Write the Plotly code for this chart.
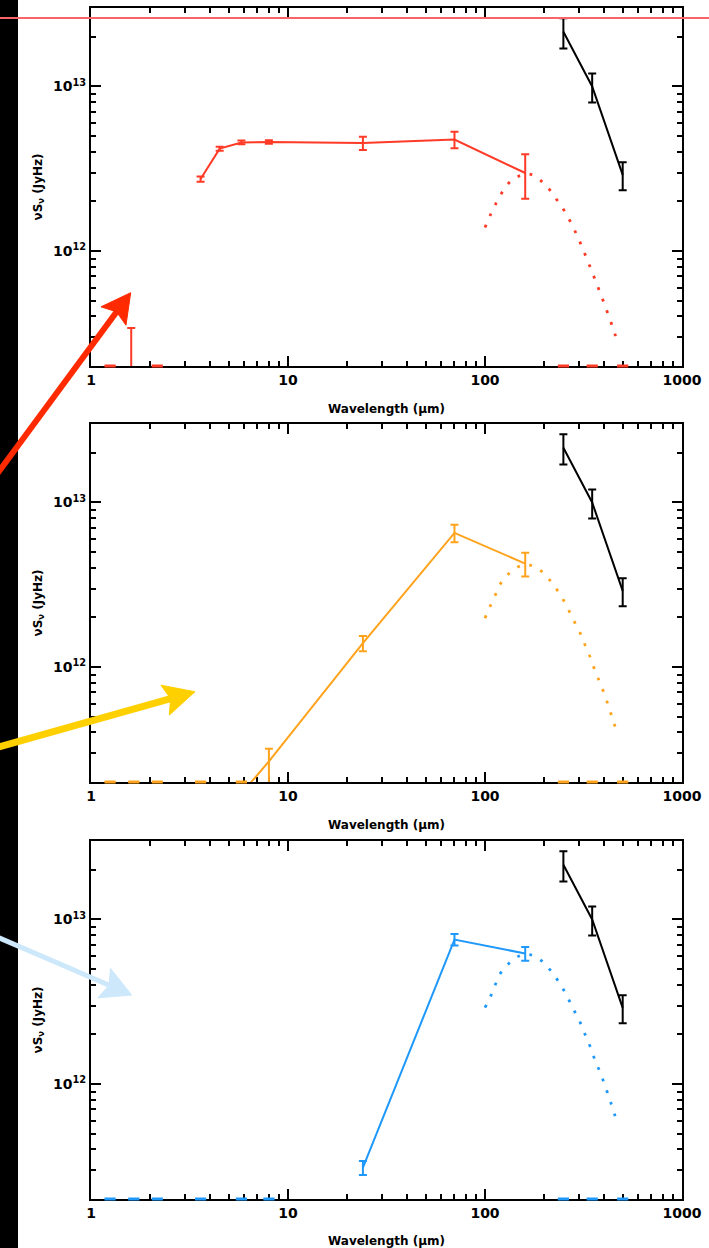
import math
import plotly.graph_objects as go

# ---------------------------------------------------------------- data
# Far-IR points shared by all three panels (micron, Jy Hz)
fir_wl = [250, 350, 500]
fir_flux = [2.15e13, 1.0e13, 2.9e12]
fir_err = [0.45e13, 0.20e13, 0.56e12]

# Panel 1 (red)
red_wl = [3.6, 4.5, 5.8, 8.0, 24, 70, 160]
red_flux = [2.74e12, 4.19e12, 4.57e12, 4.60e12, 4.53e12, 4.76e12, 2.98e12]
red_err = [0.10e12, 0.12e12, 0.12e12, 0.12e12, 0.42e12, 0.55e12, 0.90e12]
red_lim_wl = [1.6]
red_lim_flux = [1.0e11]
red_lim_err = [2.4e11]
red_floor_wl = [1.25, 2.17, 250, 350, 500]
red_bb_wl = [100, 113, 132, 148, 171, 194, 214, 234, 254, 290, 326, 363, 404, 447, 468]
red_bb_flux = [1.39e12, 1.92e12, 2.59e12, 2.85e12, 2.92e12, 2.65e12, 2.34e12, 2.01e12,
               1.74e12, 1.28e12, 9.2e11, 6.64e11, 4.75e11, 3.38e11, 2.85e11]

# Panel 2 (orange)
org_wl = [5.8, 8.0, 24, 70, 160]
org_flux = [1.7e11, 2.67e11, 1.395e12, 6.53e12, 4.25e12]
org_err_hi = [0.0, 0.52e11, 0.15e12, 0.80e12, 0.70e12]
org_err_lo = [0.0, 0.90e11, 0.15e12, 0.80e12, 0.70e12]
org_floor_wl = [1.25, 1.65, 2.17, 3.6, 5.8, 250, 350, 500]
org_bb_wl = [100, 106, 113, 120, 132, 149, 171, 194, 216, 235, 254, 272, 290, 310,
             326, 346, 363, 384, 405, 426, 445, 467]
org_bb_flux = [1.98e12, 2.33e12, 2.75e12, 3.22e12, 3.69e12, 4.09e12, 4.15e12, 3.81e12,
               3.31e12, 2.88e12, 2.47e12, 2.10e12, 1.80e12, 1.53e12, 1.31e12, 1.11e12,
               9.36e11, 8.0e11, 6.75e11, 5.67e11, 4.8e11, 4.03e11]

# Panel 3 (blue)
blu_wl = [24, 70, 160]
blu_flux = [3.1e11, 7.55e12, 6.21e12]
blu_err = [0.3e11, 0.6e12, 0.6e12]
blu_floor_wl = [1.25, 1.65, 2.17, 3.6, 5.8, 8.0, 250, 350, 500]
blu_bb_wl = [100, 107, 113, 120, 133, 149, 171, 194, 216, 235, 254, 272, 290, 310,
             326, 346, 363, 384, 405, 426, 445, 467]
blu_bb_flux = [2.91e12, 3.43e12, 4.04e12, 4.73e12, 5.44e12, 6.0e12, 6.1e12, 5.6e12,
               4.87e12, 4.23e12, 3.63e12, 3.09e12, 2.65e12, 2.25e12, 1.93e12, 1.63e12,
               1.38e12, 1.18e12, 0.99e12, 0.83e12, 0.71e12, 0.59e12]

x_ticks = [1, 10, 100, 1000]
x_ticktext = ["1", "10", "100", "1000"]
y_ticks = [1e12, 1e13]
y_ticktext = ["10<sup>12</sup>", "10<sup>13</sup>"]
Y_MIN, Y_MAX = 2e11, 3e13

RED = "#ff3a26"
ORANGE = "#ffa31c"
BLUE = "#1e98fa"

# ---------------------------------------------------------------- geometry
W, H = 709, 1248
L, R, T, B = 91, 27, 8, 49
PW, PH = W - L - R, H - T - B
panel_rows = [(8, 366), (424, 782), (841, 1199)]


def to_paper(px, py):
    return (px - L) / PW, (H - B - py) / PH


fig = go.Figure()
FONT = "DejaVu Sans"


def add_panel(i, color, wl, flux, err_hi, err_lo, floor_wl, bb_wl, bb_flux):
    xa, ya = ("x", "y") if i == 1 else (f"x{i}", f"y{i}")
    # dotted modified-blackbody fit
    fig.add_trace(go.Scatter(
        x=bb_wl, y=bb_flux, mode="lines", xaxis=xa, yaxis=ya,
        line=dict(color=color, width=2.8, dash="2.8px,9.5px", shape="spline"),
        showlegend=False, hoverinfo="skip"))
    # photometry with error bars
    fig.add_trace(go.Scatter(
        x=wl, y=flux, mode="lines", xaxis=xa, yaxis=ya,
        line=dict(color=color, width=2),
        error_y=dict(type="data", symmetric=False, array=err_hi, arrayminus=err_lo,
                     color=color, thickness=2, width=4),
        showlegend=False))
    # far-IR points
    fig.add_trace(go.Scatter(
        x=fir_wl, y=fir_flux, mode="lines", xaxis=xa, yaxis=ya,
        line=dict(color="black", width=2),
        error_y=dict(type="data", array=fir_err, color="black", thickness=2, width=4),
        showlegend=False))
    # non-detections sitting on the lower axis
    fig.add_trace(go.Scatter(
        x=floor_wl, y=[Y_MIN] * len(floor_wl), mode="markers", xaxis=xa, yaxis=ya,
        marker=dict(symbol="line-ew", size=8, color=color,
                    line=dict(color=color, width=3)),
        cliponaxis=False, showlegend=False))


add_panel(1, RED, red_wl, red_flux, red_err, red_err, red_floor_wl, red_bb_wl, red_bb_flux)
fig.add_trace(go.Scatter(
    x=red_lim_wl, y=red_lim_flux, mode="markers", xaxis="x", yaxis="y",
    marker=dict(size=1, color=RED, opacity=0),
    error_y=dict(type="data", symmetric=False, array=red_lim_err, arrayminus=[0],
                 color=RED, thickness=2, width=4),
    showlegend=False))
add_panel(2, ORANGE, org_wl, org_flux, org_err_hi, org_err_lo, org_floor_wl, org_bb_wl, org_bb_flux)
add_panel(3, BLUE, blu_wl, blu_flux, blu_err, blu_err, blu_floor_wl, blu_bb_wl, blu_bb_flux)

x_minor = [k * 10 ** d for d in range(3) for k in range(2, 10)]
y_minor = [k * 10 ** d for d in range(11, 14) for k in range(2, 10) if Y_MIN <= k * 10 ** d <= Y_MAX]

TICK_FONT = dict(family=FONT, size=14, color="black", weight="bold")
TITLE_FONT = dict(family=FONT, size=12, color="black", weight="bold")

axis_common = dict(
    showline=True, linecolor="black", linewidth=2, mirror="ticks",
    ticks="inside", ticklen=10, tickwidth=1.5, tickcolor="black",
    showgrid=False, zeroline=False, layer="below traces", automargin=False,
    tickfont=TICK_FONT,
)

layout = dict(
    width=W, height=H, margin=dict(l=L, r=R, t=T, b=B),
    paper_bgcolor="white", plot_bgcolor="white",
    font=dict(family=FONT, color="black"),
    showlegend=False,
)

# lower limit nudged a hair below the floor value so the axis-floor marks stay in range
y_range = [math.log10(Y_MIN) - 1e-6, math.log10(Y_MAX)]

for i, (top, bot) in enumerate(panel_rows, start=1):
    suffix = "" if i == 1 else str(i)
    y0 = to_paper(0, bot)[1]
    y1 = to_paper(0, top)[1]
    layout["xaxis" + suffix] = dict(
        type="log", range=[0, 3], domain=[0, 1], anchor="y" + suffix,
        tickmode="array", tickvals=x_ticks, ticktext=x_ticktext,
        minor=dict(ticks="inside", ticklen=5, tickwidth=1.5, tickcolor="black",
                   tickmode="array", tickvals=x_minor, showgrid=False),
        title=dict(text="Wavelength (μm)", font=TITLE_FONT, standoff=18),
        **axis_common)
    layout["yaxis" + suffix] = dict(
        type="log", range=y_range, domain=[y0, y1],
        anchor="x" + suffix,
        tickmode="array", tickvals=y_ticks, ticktext=y_ticktext,
        minor=dict(ticks="inside", ticklen=5, tickwidth=1.5, tickcolor="black",
                   tickmode="array", tickvals=y_minor, showgrid=False),
        title=dict(text="νS<sub>ν</sub> (JyHz)", font=TITLE_FONT, standoff=8),
        **axis_common)

fig.update_layout(**layout)

shapes = []
# dark strip along the left edge
sx0, sy0 = to_paper(0, H + 5)
sx1, sy1 = to_paper(18, -5)
shapes.append(dict(type="rect", xref="paper", yref="paper", x0=sx0, x1=sx1, y0=sy0, y1=sy1,
                   fillcolor="black", line=dict(width=0), layer="below"))


def arrow(tail, tip, head_len, head_w, color, width):
    dx, dy = tip[0] - tail[0], tip[1] - tail[1]
    n = (dx * dx + dy * dy) ** 0.5
    ux, uy = dx / n, dy / n
    px_, py_ = -uy, ux
    bx, by = tip[0] - ux * head_len, tip[1] - uy * head_len
    nx, ny = bx + ux * head_len * 0.18, by + uy * head_len * 0.18
    w1 = (bx + px_ * head_w / 2, by + py_ * head_w / 2)
    w2 = (bx - px_ * head_w / 2, by - py_ * head_w / 2)
    a = to_paper(*tail)
    b = to_paper(nx + ux * 2, ny + uy * 2)
    out = [dict(type="line", xref="paper", yref="paper", x0=a[0], y0=a[1], x1=b[0], y1=b[1],
                line=dict(color=color, width=width), layer="above")]
    pts = [to_paper(*tip), to_paper(*w1), to_paper(nx, ny), to_paper(*w2)]
    path = "M " + " L ".join(f"{p[0]:.5f},{p[1]:.5f}" for p in pts) + " Z"
    out.append(dict(type="path", xref="paper", yref="paper", path=path,
                    fillcolor=color, line=dict(color=color, width=1), layer="above"))
    return out


shapes += arrow((-10, 483.5), (130.7, 292.7), 29, 31, "#ff2a00", 6)
shapes += arrow((-10, 749.5), (195, 691.7), 31, 31, "#ffd000", 7)
shapes += arrow((-10, 934), (131.7, 995), 30, 32, "#cce8fa", 5)

# thin guide line across the top
gx0, gy = to_paper(-5, 18)
gx1, _ = to_paper(W + 5, 18)
shapes.append(dict(type="line", xref="paper", yref="paper", x0=gx0, x1=gx1, y0=gy, y1=gy,
                   line=dict(color="#fb6464", width=2), layer="above"))

fig.update_layout(shapes=shapes)
fig.write_html("out.html")
